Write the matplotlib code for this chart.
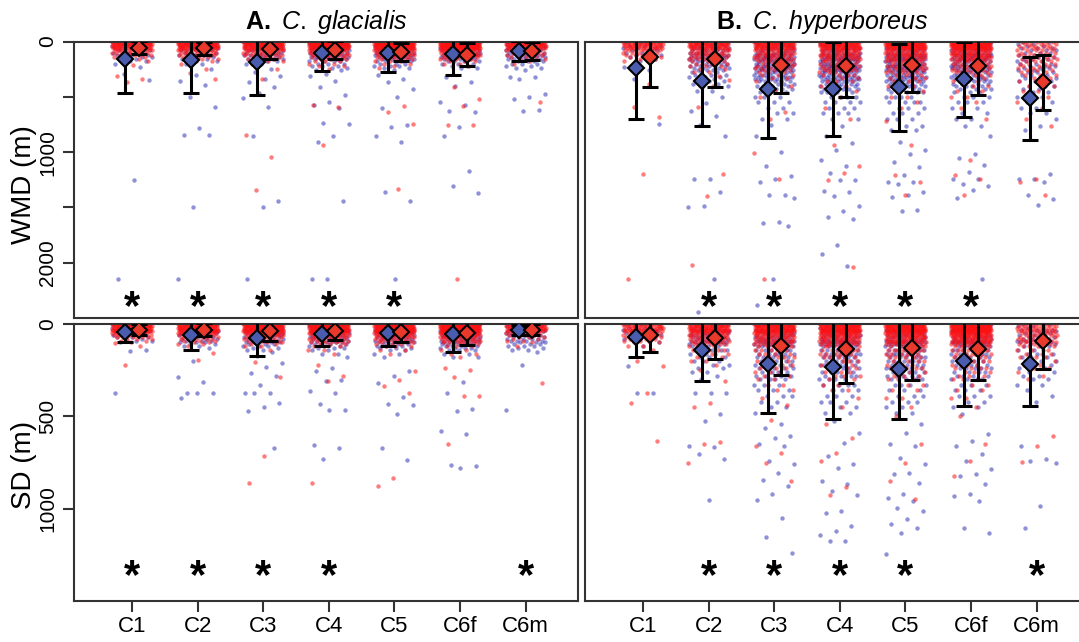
import matplotlib
matplotlib.use("Agg")
import matplotlib.pyplot as plt
import numpy as np

plt.rcParams["font.family"] = ["Liberation Sans", "DejaVu Sans"]
plt.rcParams["mathtext.fontset"] = "custom"
plt.rcParams["mathtext.rm"] = "Liberation Sans"
plt.rcParams["mathtext.it"] = "Liberation Sans:italic"
plt.rcParams["mathtext.bf"] = "Liberation Sans:bold"

stages = ["C1", "C2", "C3", "C4", "C5", "C6f", "C6m"]

# ---- means and standard deviations (m), blue = first group, red = second group
wmd_gla_blue_mean = [156, 168, 186, 106, 106, 115, 85]
wmd_gla_blue_sd = [311, 294, 297, 159, 174, 190, 90]
wmd_gla_red_mean = [57, 63, 72, 76, 94, 120, 85]
wmd_gla_red_sd = [60, 60, 90, 84, 81, 103, 81]

wmd_hyp_blue_mean = [236, 356, 430, 430, 415, 340, 515]
wmd_hyp_blue_sd = [464, 410, 445, 427, 396, 340, 375]
wmd_hyp_red_mean = [136, 160, 215, 220, 215, 226, 370]
wmd_hyp_red_sd = [279, 255, 251, 283, 240, 259, 246]

sd_gla_blue_mean = [43, 58, 76, 54, 49, 54, 31]
sd_gla_blue_sd = [54, 84, 99, 67, 72, 99, 27]
sd_gla_red_mean = [31, 31, 36, 36, 43, 49, 31]
sd_gla_red_sd = [30, 35, 58, 49, 54, 63, 30]

sd_hyp_blue_mean = [70, 139, 216, 231, 241, 198, 214]
sd_hyp_blue_sd = [110, 171, 265, 284, 276, 247, 231]
sd_hyp_red_mean = [58, 76, 121, 137, 130, 135, 94]
sd_hyp_red_sd = [95, 112, 157, 184, 171, 166, 149]

# significant differences per stage
wmd_gla_signif = [1, 1, 1, 1, 1, 0, 0]
wmd_hyp_signif = [0, 1, 1, 1, 1, 1, 0]
sd_gla_signif = [1, 1, 1, 1, 0, 0, 1]
sd_hyp_signif = [0, 1, 1, 1, 1, 0, 1]

# ---- individual observations as (depth, number of samples) per stage
wmd_gla_blue = [
    [(0, 3), (20, 4), (40, 4), (60, 5), (80, 5), (100, 4), (120, 3), (140, 3), (160, 2), (180, 2), (200, 1),
     (235, 1), (296, 1), (350, 1), (1252, 1), (2150, 1)],
    [(0, 3), (20, 4), (40, 4), (60, 5), (80, 5), (100, 5), (120, 4), (140, 3), (160, 2), (180, 2), (200, 2),
     (250, 1), (300, 1), (355, 1), (395, 1), (505, 1), (595, 1), (785, 1), (845, 2), (1500, 1), (2150, 1)],
    [(0, 3), (20, 4), (40, 5), (60, 6), (80, 6), (100, 6), (120, 5), (140, 4), (160, 4), (180, 3), (200, 2),
     (250, 1), (280, 1), (310, 1), (335, 1), (370, 1), (415, 1), (466, 1), (515, 1), (595, 1), (850, 1),
     (1440, 1), (1500, 1), (2150, 1)],
    [(0, 4), (20, 6), (40, 7), (60, 8), (80, 8), (100, 8), (120, 7), (140, 6), (160, 5), (180, 4), (200, 3),
     (220, 3), (240, 2), (260, 2), (290, 1), (310, 1), (355, 1), (415, 1), (485, 1), (550, 1), (575, 1),
     (600, 1), (740, 1), (750, 1), (850, 1), (910, 1), (1440, 1), (2150, 2)],
    [(0, 4), (20, 6), (40, 7), (60, 8), (80, 8), (100, 8), (120, 7), (140, 6), (160, 5), (180, 4), (200, 3),
     (220, 3), (240, 2), (260, 1), (300, 1), (340, 1), (370, 1), (430, 1), (505, 1), (600, 1), (755, 1),
     (775, 1), (850, 1), (905, 1), (1365, 1), (1440, 1), (2150, 1)],
    [(0, 4), (20, 6), (40, 7), (60, 8), (80, 8), (100, 8), (120, 7), (140, 6), (160, 5), (180, 4), (200, 3),
     (220, 2), (240, 2), (325, 1), (370, 1), (400, 1), (550, 1), (575, 1), (625, 1), (640, 1), (775, 1),
     (850, 1), (1170, 1), (1305, 1), (1370, 1)],
    [(0, 3), (20, 5), (40, 6), (60, 7), (80, 7), (100, 7), (120, 6), (140, 5), (160, 5), (180, 4), (200, 3),
     (220, 2), (240, 2), (260, 1), (325, 2), (340, 1), (475, 1), (505, 1), (520, 1), (615, 1), (625, 1)],
]
wmd_gla_red = [
    [(0, 22), (20, 22), (40, 20), (60, 16), (80, 12), (100, 8), (120, 5), (140, 3), (160, 2), (180, 1),
     (215, 1), (316, 1), (335, 1), (370, 1)],
    [(0, 24), (20, 24), (40, 22), (60, 18), (80, 14), (100, 9), (120, 6), (140, 4), (160, 3), (180, 2),
     (200, 1), (250, 1), (286, 1), (340, 1)],
    [(0, 25), (20, 25), (40, 22), (60, 18), (80, 14), (100, 10), (120, 6), (140, 4), (160, 3), (180, 2),
     (200, 1), (250, 1), (340, 1), (845, 1), (1045, 1), (1345, 1)],
    [(0, 28), (20, 28), (40, 26), (60, 20), (80, 15), (100, 10), (120, 7), (140, 5), (160, 4), (180, 3),
     (200, 2), (220, 2), (250, 1), (575, 1), (595, 1), (940, 1)],
    [(0, 28), (20, 28), (40, 26), (60, 22), (80, 17), (100, 12), (120, 8), (140, 6), (160, 4), (180, 3),
     (200, 2), (220, 1), (240, 1), (580, 1), (640, 1), (745, 1), (1335, 1)],
    [(0, 28), (20, 28), (40, 27), (60, 24), (80, 19), (100, 14), (120, 9), (140, 6), (160, 4), (180, 3),
     (200, 2), (220, 1), (415, 1), (520, 1), (580, 1), (755, 2), (2150, 1)],
    [(0, 20), (20, 20), (40, 18), (60, 14), (80, 10), (100, 6), (120, 4), (140, 3), (160, 2), (180, 1),
     (200, 1), (550, 1)],
]

wmd_hyp_blue = [
    [(0, 2), (20, 2), (40, 3), (60, 3), (80, 3), (100, 3), (120, 2), (140, 2), (160, 1), (180, 1), (230, 1),
     (260, 1), (340, 1), (745, 1)],
    [(0, 3), (20, 4), (40, 5), (60, 6), (80, 6), (100, 7), (120, 7), (140, 7), (160, 6), (180, 6), (200, 5),
     (220, 5), (240, 4), (260, 4), (280, 3), (300, 3), (320, 3), (340, 2), (360, 2), (380, 2), (400, 2),
     (450, 2), (500, 1), (560, 1), (625, 1), (670, 1), (755, 1), (850, 1), (1245, 2), (1365, 1), (1485, 1),
     (1495, 1), (2145, 1), (2445, 1)],
    [(0, 3), (20, 4), (40, 5), (60, 6), (80, 7), (100, 8), (120, 8), (140, 9), (160, 9), (180, 9), (200, 9),
     (220, 8), (240, 8), (260, 7), (280, 7), (300, 6), (320, 6), (340, 5), (360, 5), (380, 4), (400, 4),
     (430, 4), (460, 3), (500, 3), (550, 3), (600, 2), (650, 2), (700, 2), (755, 1), (850, 1), (1000, 1),
     (1125, 1), (1215, 1), (1245, 1), (1270, 1), (1385, 2), (1415, 1), (1630, 1), (1645, 1), (1665, 1),
     (2145, 1), (2385, 1)],
    [(0, 3), (20, 4), (40, 5), (60, 6), (80, 7), (100, 8), (120, 9), (140, 9), (160, 10), (180, 10),
     (200, 10), (220, 9), (240, 9), (260, 9), (280, 8), (300, 8), (320, 7), (340, 7), (360, 6), (380, 6),
     (400, 5), (430, 5), (460, 4), (500, 4), (550, 4), (600, 3), (650, 3), (700, 2), (760, 1), (850, 1),
     (920, 1), (980, 1), (1070, 1), (1130, 1), (1190, 1), (1250, 2), (1350, 1), (1365, 1), (1400, 1),
     (1490, 1), (1530, 1), (1590, 1), (1605, 1), (1840, 1), (1920, 1), (2030, 1)],
    [(0, 3), (20, 4), (40, 5), (60, 6), (80, 7), (100, 8), (120, 8), (140, 9), (160, 9), (180, 9), (200, 9),
     (220, 9), (240, 8), (260, 8), (280, 8), (300, 7), (320, 7), (340, 6), (360, 6), (380, 5), (400, 5),
     (430, 5), (460, 4), (500, 4), (550, 4), (600, 3), (650, 3), (700, 3), (760, 2), (800, 2), (910, 1),
     (985, 1), (1015, 1), (1090, 1), (1135, 1), (1210, 1), (1270, 2), (1290, 1), (1360, 1), (1390, 1),
     (1405, 1), (1525, 1), (1530, 1)],
    [(0, 3), (20, 4), (40, 5), (60, 6), (80, 7), (100, 8), (120, 8), (140, 8), (160, 8), (180, 8), (200, 8),
     (220, 7), (240, 7), (260, 6), (280, 6), (300, 6), (320, 5), (340, 5), (360, 5), (380, 4), (400, 4),
     (430, 4), (460, 3), (500, 3), (550, 3), (600, 2), (650, 2), (700, 2), (760, 2), (850, 1), (1015, 1),
     (1055, 1), (1120, 1), (1180, 1), (1240, 1), (1245, 1), (1285, 1), (1305, 1), (1345, 1), (1415, 1),
     (2145, 1)],
    [(0, 2), (20, 2), (40, 2), (60, 3), (80, 3), (100, 3), (120, 3), (140, 3), (160, 3), (180, 3), (200, 3),
     (220, 3), (240, 3), (260, 3), (280, 3), (300, 3), (330, 3), (360, 3), (400, 3), (430, 2), (460, 2),
     (500, 2), (550, 2), (600, 2), (650, 2), (700, 1), (760, 1), (800, 1), (1195, 1), (1240, 1), (1245, 1),
     (1270, 1), (1390, 1), (1420, 1), (1480, 1)],
]
wmd_hyp_red = [
    [(0, 14), (20, 14), (40, 13), (60, 10), (80, 8), (100, 5), (120, 4), (140, 3), (160, 2), (180, 1),
     (385, 1), (595, 1), (685, 1), (1195, 1), (2150, 1)],
    [(0, 18), (20, 18), (40, 16), (60, 13), (80, 11), (100, 9), (120, 7), (140, 6), (160, 5), (180, 4),
     (200, 4), (220, 3), (250, 3), (280, 2), (310, 2), (350, 1), (400, 1), (595, 1), (1195, 1), (1395, 1),
     (2020, 1)],
    [(0, 20), (20, 20), (40, 18), (60, 15), (80, 13), (100, 11), (120, 9), (140, 8), (160, 7), (180, 6),
     (200, 5), (220, 5), (240, 4), (260, 4), (280, 3), (300, 3), (330, 2), (360, 2), (400, 2), (450, 1),
     (500, 1), (640, 1), (700, 1), (1010, 1), (1245, 1), (2145, 1)],
    [(0, 22), (20, 22), (40, 20), (60, 17), (80, 15), (100, 13), (120, 11), (140, 9), (160, 8), (180, 7),
     (200, 6), (220, 6), (240, 5), (260, 5), (280, 4), (300, 4), (330, 3), (360, 3), (400, 2), (450, 2),
     (500, 1), (600, 1), (700, 1), (940, 1), (1130, 1), (1190, 1), (1250, 1), (2040, 1)],
    [(0, 24), (20, 24), (40, 22), (60, 19), (80, 16), (100, 14), (120, 12), (140, 10), (160, 9), (180, 8),
     (200, 7), (220, 6), (240, 6), (260, 5), (280, 5), (300, 4), (330, 4), (360, 3), (400, 3), (450, 2),
     (500, 2), (550, 1), (600, 1), (720, 1), (940, 1), (1210, 1), (1270, 1), (1390, 1)],
    [(0, 26), (20, 26), (40, 24), (60, 21), (80, 18), (100, 15), (120, 13), (140, 11), (160, 9), (180, 8),
     (200, 7), (220, 6), (240, 5), (260, 5), (280, 4), (300, 4), (330, 3), (360, 3), (400, 2), (450, 2),
     (500, 2), (550, 1), (600, 1), (700, 1), (1075, 1), (1210, 1), (1240, 1), (1390, 1)],
    [(0, 5), (20, 5), (40, 5), (60, 5), (80, 5), (100, 5), (120, 4), (140, 4), (160, 4), (180, 4), (200, 4),
     (220, 3), (240, 3), (260, 3), (280, 3), (300, 3), (330, 2), (360, 2), (400, 2), (450, 2), (500, 2),
     (550, 1), (600, 1), (700, 1), (760, 1), (1240, 1), (1270, 1), (1390, 1)],
]

sd_gla_blue = [
    [(0, 3), (10, 3), (20, 4), (30, 4), (40, 4), (50, 4), (60, 3), (70, 3), (80, 2), (90, 2), (100, 1),
     (142, 1), (148, 1), (373, 1)],
    [(0, 3), (10, 3), (20, 4), (30, 4), (40, 5), (50, 5), (60, 5), (70, 4), (80, 4), (90, 3), (100, 3),
     (110, 2), (120, 2), (130, 1), (198, 1), (286, 1), (315, 1), (373, 3), (400, 1)],
    [(0, 3), (10, 4), (20, 4), (30, 5), (40, 5), (50, 6), (60, 6), (70, 5), (80, 5), (90, 4), (100, 4),
     (110, 3), (120, 3), (130, 2), (140, 2), (150, 1), (175, 1), (211, 1), (234, 1), (265, 1), (283, 1),
     (328, 1), (373, 3), (427, 1), (450, 1), (472, 1), (672, 1)],
    [(0, 3), (10, 4), (20, 5), (30, 5), (40, 6), (50, 6), (60, 6), (70, 6), (80, 5), (90, 5), (100, 4),
     (110, 4), (120, 3), (130, 3), (140, 2), (160, 2), (180, 1), (238, 1), (256, 1), (301, 1), (310, 1),
     (364, 1), (373, 1), (432, 1), (468, 2), (654, 1), (672, 1), (731, 1)],
    [(0, 3), (10, 4), (20, 5), (30, 5), (40, 6), (50, 6), (60, 6), (70, 6), (80, 5), (90, 5), (100, 4),
     (110, 4), (120, 3), (130, 3), (140, 2), (160, 2), (180, 1), (256, 1), (283, 1), (319, 1), (396, 1),
     (432, 1), (438, 1), (490, 1), (672, 1), (735, 1)],
    [(0, 3), (10, 4), (20, 5), (30, 6), (40, 6), (50, 7), (60, 7), (70, 7), (80, 6), (90, 6), (100, 5),
     (110, 5), (120, 4), (130, 4), (140, 3), (160, 2), (180, 2), (313, 1), (373, 1), (458, 1), (469, 1),
     (580, 1), (595, 1), (766, 1), (771, 1), (780, 1)],
    [(0, 3), (10, 4), (20, 4), (30, 5), (40, 5), (50, 5), (60, 5), (70, 4), (80, 4), (90, 4), (100, 3),
     (110, 3), (120, 3), (130, 2), (140, 2), (150, 1), (220, 1), (463, 1)],
]
sd_gla_red = [
    [(0, 20), (10, 20), (20, 19), (30, 17), (40, 14), (50, 11), (60, 8), (70, 5), (80, 3), (90, 2), (100, 1),
     (103, 1), (120, 1), (220, 1)],
    [(0, 22), (10, 22), (20, 20), (30, 18), (40, 15), (50, 12), (60, 9), (70, 6), (80, 5), (90, 3), (100, 2),
     (110, 2), (120, 1), (157, 1), (193, 1)],
    [(0, 24), (10, 24), (20, 22), (30, 20), (40, 17), (50, 14), (60, 10), (70, 7), (80, 5), (90, 4), (100, 3),
     (110, 2), (120, 2), (140, 1), (205, 1), (288, 1), (717, 1), (861, 1)],
    [(0, 25), (10, 25), (20, 23), (30, 21), (40, 18), (50, 15), (60, 11), (70, 8), (80, 6), (90, 5), (100, 4),
     (110, 3), (120, 2), (140, 2), (160, 1), (220, 1), (283, 1), (310, 1), (861, 1)],
    [(0, 25), (10, 25), (20, 23), (30, 21), (40, 18), (50, 15), (60, 12), (70, 9), (80, 7), (90, 5), (100, 4),
     (110, 3), (120, 3), (140, 2), (160, 1), (256, 1), (301, 1), (337, 1), (373, 1), (834, 1), (879, 1)],
    [(0, 27), (10, 27), (20, 25), (30, 23), (40, 21), (50, 18), (60, 14), (70, 11), (80, 8), (90, 6), (100, 5),
     (110, 4), (120, 3), (140, 2), (160, 2), (180, 1), (238, 1), (247, 1), (288, 1), (391, 2), (649, 1)],
    [(0, 18), (10, 18), (20, 15), (30, 12), (40, 9), (50, 6), (60, 4), (70, 3), (80, 2), (90, 2), (100, 1),
     (120, 1), (319, 1)],
]

sd_hyp_blue = [
    [(0, 2), (10, 2), (20, 3), (30, 3), (40, 3), (50, 3), (60, 3), (70, 2), (80, 2), (90, 2), (100, 1),
     (120, 1), (225, 1), (373, 2)],
    [(0, 3), (10, 3), (20, 4), (30, 4), (40, 5), (50, 5), (60, 5), (70, 5), (80, 5), (90, 5), (100, 5),
     (110, 4), (120, 4), (140, 4), (160, 3), (180, 3), (200, 3), (220, 2), (240, 2), (260, 2), (280, 1),
     (300, 1), (373, 3), (490, 1), (526, 1), (661, 1), (665, 1), (706, 1), (733, 1), (955, 1)],
    [(0, 3), (10, 3), (20, 4), (30, 4), (40, 5), (50, 5), (60, 6), (70, 6), (80, 6), (90, 6), (100, 6),
     (110, 6), (120, 6), (140, 6), (160, 6), (180, 5), (200, 5), (220, 5), (240, 5), (260, 4), (280, 4),
     (300, 4), (330, 3), (360, 3), (390, 3), (420, 2), (450, 2), (480, 1), (544, 1), (562, 1), (607, 1),
     (616, 1), (652, 1), (661, 1), (742, 1), (757, 1), (805, 1), (847, 1), (878, 1), (919, 1), (955, 1),
     (1049, 1), (1152, 1), (1238, 1), (1310, 1)],
    [(0, 3), (10, 3), (20, 4), (30, 4), (40, 5), (50, 5), (60, 6), (70, 6), (80, 6), (90, 6), (100, 7),
     (110, 7), (120, 7), (140, 7), (160, 7), (180, 6), (200, 6), (220, 6), (240, 5), (260, 5), (280, 4),
     (300, 4), (330, 4), (360, 3), (390, 3), (420, 3), (450, 2), (480, 2), (526, 1), (589, 1), (643, 1),
     (715, 1), (760, 1), (778, 1), (850, 1), (869, 1), (905, 1), (925, 1), (1013, 1), (1022, 1), (1095, 1),
     (1123, 1), (1140, 1), (1173, 1), (1175, 1)],
    [(0, 3), (10, 3), (20, 4), (30, 4), (40, 5), (50, 5), (60, 6), (70, 6), (80, 6), (90, 6), (100, 7),
     (110, 7), (120, 7), (140, 7), (160, 7), (180, 6), (200, 6), (220, 6), (240, 6), (260, 5), (280, 5),
     (300, 4), (330, 4), (360, 3), (390, 3), (420, 3), (450, 2), (480, 2), (544, 1), (589, 1), (649, 1),
     (661, 1), (724, 1), (760, 1), (805, 1), (814, 1), (859, 1), (923, 1), (941, 1), (959, 1), (995, 1),
     (1013, 1), (1058, 1), (1085, 1), (1106, 1), (1130, 1), (1247, 1)],
    [(0, 3), (10, 3), (20, 4), (30, 4), (40, 5), (50, 5), (60, 5), (70, 6), (80, 6), (90, 6), (100, 6),
     (110, 6), (120, 6), (140, 6), (160, 6), (180, 5), (200, 5), (220, 5), (240, 5), (260, 4), (280, 4),
     (300, 4), (330, 3), (360, 3), (390, 3), (420, 2), (450, 2), (490, 1), (598, 1), (634, 1), (661, 1),
     (706, 1), (742, 1), (787, 1), (814, 1), (823, 1), (869, 1), (919, 1), (932, 1), (959, 1), (1106, 1),
     (1130, 1)],
    [(0, 2), (10, 2), (20, 2), (30, 3), (40, 3), (50, 3), (60, 3), (70, 3), (80, 3), (90, 3), (100, 3),
     (110, 3), (120, 3), (140, 3), (160, 3), (180, 3), (200, 3), (220, 2), (240, 2), (260, 2), (280, 2),
     (300, 2), (330, 2), (360, 1), (390, 1), (420, 1), (661, 1), (733, 1), (742, 1), (751, 1), (985, 1),
     (1103, 1)],
]
sd_hyp_red = [
    [(0, 12), (10, 12), (20, 11), (30, 10), (40, 8), (50, 7), (60, 5), (70, 4), (80, 3), (90, 3), (100, 2),
     (120, 2), (140, 1), (198, 1), (229, 1), (373, 1), (427, 1), (634, 1)],
    [(0, 18), (10, 18), (20, 17), (30, 15), (40, 13), (50, 11), (60, 10), (70, 8), (80, 7), (90, 6), (100, 5),
     (110, 5), (120, 4), (140, 4), (160, 3), (180, 2), (200, 2), (220, 1), (250, 1), (310, 1), (427, 1),
     (450, 1), (640, 1), (650, 1), (751, 1)],
    [(0, 22), (10, 22), (20, 20), (30, 18), (40, 16), (50, 14), (60, 12), (70, 10), (80, 9), (90, 8), (100, 7),
     (110, 6), (120, 6), (140, 5), (160, 5), (180, 4), (200, 4), (220, 3), (240, 3), (260, 3), (280, 2),
     (300, 2), (330, 2), (360, 2), (400, 1), (440, 1), (520, 1), (660, 1), (700, 1), (751, 1), (850, 1)],
    [(0, 24), (10, 24), (20, 22), (30, 20), (40, 18), (50, 16), (60, 14), (70, 12), (80, 10), (90, 9), (100, 8),
     (110, 7), (120, 7), (140, 6), (160, 5), (180, 5), (200, 4), (220, 4), (240, 3), (260, 3), (280, 3),
     (300, 2), (330, 2), (360, 2), (400, 1), (450, 1), (540, 1), (620, 1), (700, 1), (740, 1), (880, 1),
     (925, 1)],
    [(0, 24), (10, 24), (20, 22), (30, 20), (40, 18), (50, 16), (60, 14), (70, 13), (80, 11), (90, 10),
     (100, 9), (110, 8), (120, 7), (140, 7), (160, 6), (180, 5), (200, 5), (220, 4), (240, 4), (260, 3),
     (280, 3), (300, 3), (330, 2), (360, 2), (400, 2), (450, 1), (500, 1), (652, 1), (751, 1), (850, 1),
     (950, 1)],
    [(0, 27), (10, 27), (20, 25), (30, 23), (40, 21), (50, 19), (60, 17), (70, 14), (80, 12), (90, 11),
     (100, 10), (110, 9), (120, 8), (140, 7), (160, 6), (180, 5), (200, 5), (220, 4), (240, 4), (260, 3),
     (280, 3), (300, 3), (330, 2), (360, 2), (400, 2), (450, 1), (500, 1), (652, 1), (742, 1), (823, 1)],
    [(0, 7), (10, 7), (20, 7), (30, 7), (40, 6), (50, 6), (60, 6), (70, 5), (80, 5), (90, 5), (100, 4),
     (110, 4), (120, 4), (140, 3), (160, 3), (180, 3), (200, 2), (220, 2), (240, 2), (260, 1), (280, 1),
     (300, 1), (607, 1), (661, 1), (746, 1)],
]

BLUE_PT, RED_PT = "#2222b0", "#ff1010"
BLUE_FILL, RED_FILL = "#4a5cae", "#e8392b"
FRAME = "#333333"

W, H = 1079, 642


def px_axes(left, top, right, bottom):
    return [left / W, 1 - bottom / H, (right - left) / W, (bottom - top) / H]


def cloud(ax, groups, color, phase, alpha):
    for i, rows in enumerate(groups):
        xs, ys = [], []
        k = 0
        for depth, n in rows:
            for _ in range(n):
                u = ((k + 0.5) * 0.6180339887 + phase + 0.29 * i) % 1.0
                xs.append(i + 1 + (u - 0.5) * 0.62)
                ys.append(depth)
                k += 1
        ax.scatter(xs, ys, s=10, color=color, alpha=alpha, linewidths=0, zorder=2)


def means(ax, mean, sd, dx, fill):
    x = np.arange(1, len(mean) + 1) + dx
    ax.errorbar(x, mean, yerr=sd, fmt="none", ecolor="black", elinewidth=2.2,
                capsize=5.8, capthick=2.2, zorder=3)
    ax.plot(x, mean, "D", ms=8.5, mfc=fill, mec="black", mew=1.5, zorder=4)


def stars(ax, flags, depth):
    for i, f in enumerate(flags):
        if f:
            ax.annotate("*", (i + 1, depth), xytext=(0, -17), textcoords="offset points",
                        ha="center", va="baseline", fontsize=30, fontweight="bold", zorder=5)


fig = plt.figure(figsize=(W / 100, H / 100), dpi=100)

panels = [
    (px_axes(74, 41.5, 578, 318), wmd_gla_blue, wmd_gla_red, wmd_gla_blue_mean, wmd_gla_blue_sd,
     wmd_gla_red_mean, wmd_gla_red_sd, wmd_gla_signif, 2500, 2300, True, False),
    (px_axes(585, 41.5, 1089, 318), wmd_hyp_blue, wmd_hyp_red, wmd_hyp_blue_mean, wmd_hyp_blue_sd,
     wmd_hyp_red_mean, wmd_hyp_red_sd, wmd_hyp_signif, 2500, 2300, False, False),
    (px_axes(74, 324, 578, 601), sd_gla_blue, sd_gla_red, sd_gla_blue_mean, sd_gla_blue_sd,
     sd_gla_red_mean, sd_gla_red_sd, sd_gla_signif, 1500, 1300, True, True),
    (px_axes(585, 324, 1089, 601), sd_hyp_blue, sd_hyp_red, sd_hyp_blue_mean, sd_hyp_blue_sd,
     sd_hyp_red_mean, sd_hyp_red_sd, sd_hyp_signif, 1500, 1300, False, True),
]

for (rect, pb, pr, bm, bs, rm, rs, sig, ymax, star_y, left_lab, bottom_lab) in panels:
    ax = fig.add_axes(rect)
    cloud(ax, pb, BLUE_PT, 0.13, 0.5)
    cloud(ax, pr, RED_PT, 0.61, 0.55)
    means(ax, bm, bs, -0.1, BLUE_FILL)
    means(ax, rm, rs, 0.1, RED_FILL)
    stars(ax, sig, star_y)
    ax.set_xlim(0.115, 7.8)
    ax.set_ylim(ymax, 0)
    for sp in ax.spines.values():
        sp.set_color(FRAME)
        sp.set_linewidth(1.5)
    ax.tick_params(direction="out", length=8, width=1.5, color=FRAME, labelsize=15, pad=3)
    if bottom_lab:
        ax.set_xticks(range(1, 8))
        ax.set_xticklabels(stages, fontsize=16)
    else:
        ax.tick_params(bottom=False, labelbottom=False)
    if left_lab:
        if ymax == 2500:
            ax.set_yticks([0, 500, 1000, 1500, 2000])
            ax.set_yticklabels(["0", "", "1000", "", "2000"])
        else:
            ax.set_yticks([0, 500, 1000])
            ax.set_yticklabels(["0", "500", "1000"])
        ax.tick_params(axis="y", labelrotation=90, pad=4)
        for lbl in ax.get_yticklabels():
            lbl.set_va("center")
    else:
        ax.tick_params(left=False, labelleft=False)

fig.text(24 / W, 1 - 185 / H, "WMD (m)", rotation=90, ha="center", va="center", fontsize=20)
fig.text(24 / W, 1 - 465 / H, "SD (m)", rotation=90, ha="center", va="center", fontsize=20)

fig.text(326 / W, 1 - 29.3 / H, r"$\mathbf{A.}\ \mathit{C.\ glacialis}$",
         ha="center", va="baseline", fontsize=18)
fig.text(822 / W, 1 - 29.3 / H, r"$\mathbf{B.}\ \mathit{C.\ hyperboreus}$",
         ha="center", va="baseline", fontsize=18)

fig.savefig("out.png", dpi=100)
